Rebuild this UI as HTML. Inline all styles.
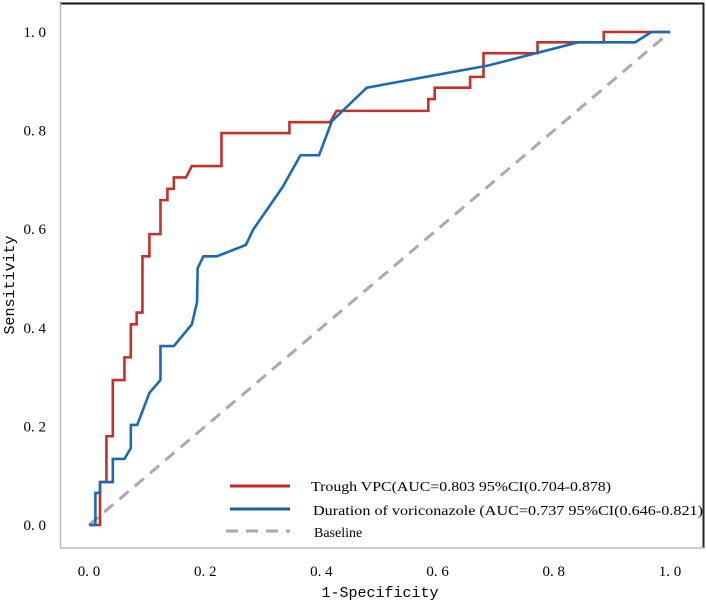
<!DOCTYPE html>
<html><head><meta charset="utf-8"><style>
html,body{margin:0;padding:0;background:#fff}
svg{display:block;font-family:"Liberation Serif",serif}
</style></head><body>
<svg id="chart" width="706" height="603">
<rect x="0" y="0" width="706" height="603" fill="#fff"/>
<line x1="60" y1="3.5" x2="704" y2="3.5" stroke="#111" stroke-width="2"/>
<line x1="703.5" y1="3" x2="703.5" y2="548" stroke="#223" stroke-width="2"/>
<line x1="60.5" y1="3" x2="60.5" y2="548" stroke="#bbb" stroke-width="1.5"/>
<line x1="60" y1="548" x2="704" y2="548" stroke="#bbb" stroke-width="1.5"/>
<g id="ticks"></g>
<g id="series"></g>
<text x="380" y="597" font-size="15" text-anchor="middle" font-family="Liberation Mono, monospace">1-Specificity</text>
<text transform="translate(14,285) rotate(-90)" font-size="15" text-anchor="middle" font-family="Liberation Mono, monospace">Sensitivity</text>
<g>
<line x1="230" y1="486" x2="290" y2="486" stroke="#c0262a" stroke-width="3"/>
<text x="311" y="491" font-size="14" textLength="300" lengthAdjust="spacingAndGlyphs">Trough VPC(AUC=0.803  95%CI(0.704-0.878)</text>
<line x1="230" y1="509" x2="290" y2="509" stroke="#1c5fa0" stroke-width="3"/>
<text x="313" y="515" font-size="14" textLength="390" lengthAdjust="spacingAndGlyphs">Duration of voriconazole (AUC=0.737 95%CI(0.646-0.821)</text>
<line x1="226" y1="531" x2="290" y2="531" stroke="#aaa" stroke-width="3" stroke-dasharray="12,8"/>
<text x="314" y="537" font-size="14">Baseline</text>
</g>
</svg>
<script>
const tickValues = [0, 0.2, 0.4, 0.6, 0.8, 1.0];
const tickLabels = ["0. 0", "0. 2", "0. 4", "0. 6", "0. 8", "1. 0"];
const troughFpr = [0,0.019,0.019,0.030,0.030,0.041,0.041,0.061,0.061,0.072,0.072,0.082,0.082,0.092,0.092,0.104,0.104,0.123,0.123,0.135,0.135,0.146,0.146,0.167,0.177,0.228,0.228,0.345,0.345,0.415,0.426,0.584,0.584,0.595,0.595,0.656,0.656,0.679,0.679,0.772,0.772,0.886,0.886,1.0];
const troughTpr = [0,0,0.087,0.087,0.18,0.18,0.294,0.294,0.34,0.34,0.407,0.407,0.431,0.431,0.545,0.545,0.59,0.59,0.659,0.659,0.682,0.682,0.705,0.705,0.728,0.728,0.795,0.795,0.817,0.817,0.84,0.84,0.864,0.864,0.887,0.887,0.909,0.909,0.957,0.957,0.979,0.979,1.0,1.0];
const durationFpr = [0,0.011,0.011,0.019,0.019,0.041,0.041,0.061,0.072,0.072,0.083,0.104,0.123,0.123,0.146,0.177,0.186,0.187,0.197,0.22,0.27,0.283,0.333,0.364,0.396,0.418,0.478,0.687,0.842,0.94,0.968,1.0];
const durationTpr = [0,0,0.065,0.065,0.087,0.087,0.134,0.134,0.156,0.203,0.203,0.268,0.294,0.363,0.363,0.407,0.452,0.521,0.545,0.545,0.568,0.60,0.685,0.75,0.75,0.819,0.887,0.932,0.979,0.979,1.0,1.0];
const baselineX = [0, 1];
const baselineY = [0, 1];

const X0 = 89, XW = 581, Y0 = 525, YH = 493;
function sx(v){ return X0 + v*XW; }
function sy(v){ return Y0 - v*YH; }
const NS = "http://www.w3.org/2000/svg";
const ticks = document.getElementById('ticks');
tickValues.forEach((v,i)=>{
  const tx = document.createElementNS(NS,'text');
  tx.setAttribute('x', sx(v)); tx.setAttribute('y', 576);
  tx.setAttribute('text-anchor','middle'); tx.setAttribute('font-size','15');
  tx.textContent = tickLabels[i];
  
  
  ticks.appendChild(tx);
  const ty = document.createElementNS(NS,'text');
  ty.setAttribute('x', 46); ty.setAttribute('y', sy(v)+5);
  ty.setAttribute('text-anchor','end'); ty.setAttribute('font-size','15');
  ty.textContent = tickLabels[i];
  
  
  ticks.appendChild(ty);
});
const series = document.getElementById('series');
function addLine(xs, ys, color, name, dash){
  const p = document.createElementNS(NS,'polyline');
  p.setAttribute('points', xs.map((x,i)=>sx(x)+','+sy(ys[i])).join(' '));
  p.setAttribute('fill','none'); p.setAttribute('stroke',color);
  p.setAttribute('stroke-width', dash ? '3' : '2.6');
  if (dash) p.setAttribute('stroke-dasharray', dash);
  
  
  series.appendChild(p);
}
addLine(baselineX, baselineY, '#aaa', 'baseline-line', '12,8');
addLine(troughFpr, troughTpr, '#c4302b', 'trough-vpc-curve');
addLine(durationFpr, durationTpr, '#1c6ab0', 'duration-curve');
</script>
</body></html>
